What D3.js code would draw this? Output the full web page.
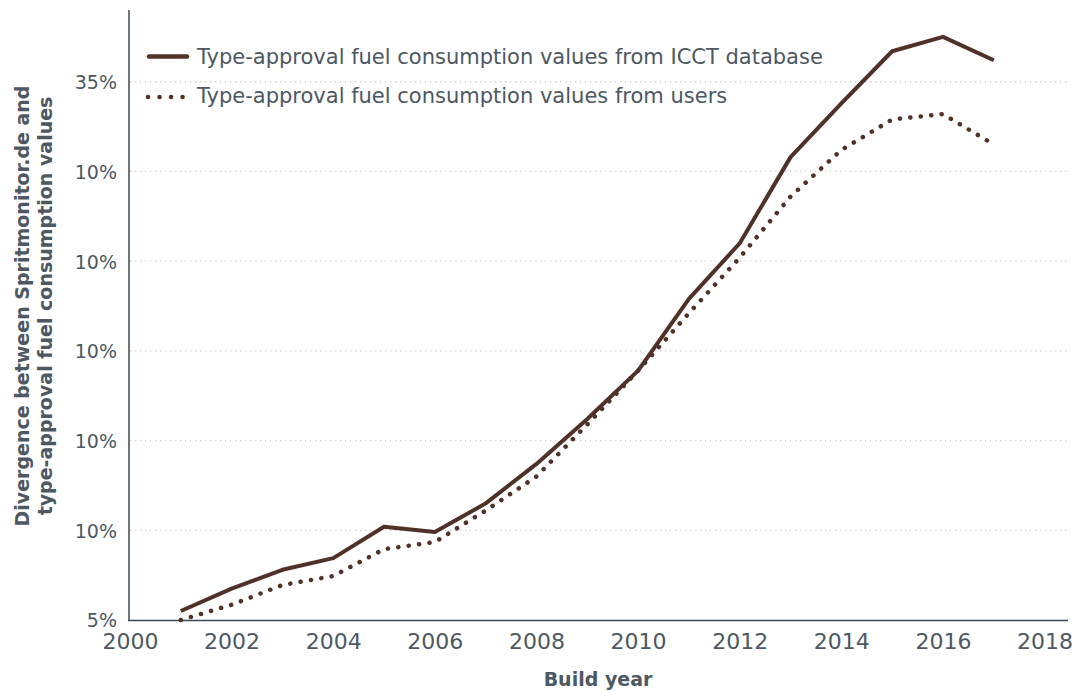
<!DOCTYPE html>
<html>
<head>
<meta charset="utf-8">
<script src="https://cdn.jsdelivr.net/npm/d3@7"></script>
<style>
    body { margin: 0; background: #fff; }
    text { font-family: "DejaVu Sans", sans-serif; fill: #4d5862; }
</style>
</head>
<body>
<svg id="chart" width="1074" height="691"></svg>
<script>
var years = [2001, 2002, 2003, 2004, 2005, 2006, 2007, 2008, 2009, 2010, 2011, 2012, 2013, 2014, 2015, 2016, 2017];
var icctValues = [5.5, 6.75, 7.8, 8.45, 10.2, 9.9, 11.5, 13.7, 16.2, 18.9, 22.9, 26.0, 30.8, 33.8, 36.7, 37.5, 36.2];
var userValues = [5.0, 5.85, 6.95, 7.45, 8.95, 9.35, 11.1, 13.0, 15.9, 18.9, 22.1, 25.2, 28.6, 31.2, 32.9, 33.2, 31.5];
var yTicks = [5, 10, 15, 20, 25, 30, 35];
var yTickLabels = ["5%", "10%", "10%", "10%", "10%", "10%", "35%"];
var xTicks = [2000, 2002, 2004, 2006, 2008, 2010, 2012, 2014, 2016, 2018];
var seriesNames = ["Type-approval fuel consumption values from ICCT database", "Type-approval fuel consumption values from users"];

var LINE = "#4f3128";
var AXIS = "#3e4852";

var svg = d3.select("#chart");
var x = d3.scaleLinear().domain([2000, 2018.5]).range([130, 1070]);
var y = d3.scaleLinear().domain([5, 39]).range([620, 10]);

// grid
svg.append("g").selectAll("line")
    .data(yTicks.slice(1))
    .join("line")
    .attr("x1", 130).attr("x2", 1068)
    .attr("y1", function(d) { return y(d); })
    .attr("y2", function(d) { return y(d); })
    .attr("stroke", "#cfcfcf")
    .attr("stroke-width", 1.3)
    .attr("stroke-dasharray", "1.3 3.7");

// axes
var yAxis = svg.append("g")
    .attr("transform", "translate(129,0)")
    .call(d3.axisLeft(y).tickValues(yTicks).tickSize(0).tickPadding(12)
        .tickFormat(function(d, i) { return yTickLabels[i]; }));
yAxis.select(".domain").remove();
yAxis.selectAll("text").style("font-family", "DejaVu Sans").style("font-size", "19px")
    .attr("fill", "#4d5862").attr("dy", "0.36em");

var xAxis = svg.append("g")
    .attr("transform", "translate(0,620)")
    .call(d3.axisBottom(x).tickValues(xTicks).tickSize(0).tickPadding(13).tickFormat(d3.format("d")));
xAxis.select(".domain").remove();
xAxis.selectAll("text").style("font-family", "DejaVu Sans").style("font-size", "22px")
    .attr("fill", "#4d5862");

svg.append("line").attr("x1", 129).attr("x2", 129).attr("y1", 10).attr("y2", 621)
    .attr("stroke", AXIS).attr("stroke-width", 1.5);
svg.append("line").attr("x1", 128).attr("x2", 1068).attr("y1", 620.5).attr("y2", 620.5)
    .attr("stroke", AXIS).attr("stroke-width", 1.5);

// titles
svg.append("text")
    .attr("x", 598).attr("y", 686)
    .attr("text-anchor", "middle")
    .style("font-size", "19px").style("font-weight", "bold")
    .text("Build year");

var yTitle = svg.append("text")
    .attr("transform", "translate(29,306) rotate(-90)")
    .attr("text-anchor", "middle")
    .style("font-size", "19px").style("font-weight", "bold");
yTitle.append("tspan").attr("x", 0).attr("y", 0).text("Divergence between Spritmonitor.de and");
yTitle.append("tspan").attr("x", 0).attr("y", 23).text("type-approval fuel consumption values");

// lines
var line = d3.line()
    .x(function(d) { return x(d[0]); })
    .y(function(d) { return y(d[1]); });

svg.append("path")
    .datum(d3.zip(years, icctValues))
    .attr("d", line)
    .attr("fill", "none")
    .attr("stroke", LINE)
    .attr("stroke-width", 4)
    .attr("stroke-linejoin", "round");

svg.append("path")
    .datum(d3.zip(years, userValues))
    .attr("d", line)
    .attr("fill", "none")
    .attr("stroke", LINE)
    .attr("stroke-width", 4.5)
    .attr("stroke-linecap", "round")
    .attr("stroke-dasharray", "0.1 10.4");

// legend
var legend = svg.append("g");
legend.append("line")
    .attr("x1", 149).attr("x2", 187).attr("y1", 56.5).attr("y2", 56.5)
    .attr("stroke", LINE).attr("stroke-width", 4.5).attr("stroke-linecap", "round");
legend.append("line")
    .attr("x1", 148).attr("x2", 184).attr("y1", 97).attr("y2", 97)
    .attr("stroke", LINE).attr("stroke-width", 4.5).attr("stroke-linecap", "round")
    .attr("stroke-dasharray", "0.1 11.4");
legend.selectAll("text.leg")
    .data(seriesNames)
    .join("text")
    .attr("class", "leg")
    .attr("x", 197)
    .attr("y", function(d, i) { return 63.5 + i * 39.5; })
    .style("font-size", "21px")
    .text(function(d) { return d; });
</script>
</body>
</html>
